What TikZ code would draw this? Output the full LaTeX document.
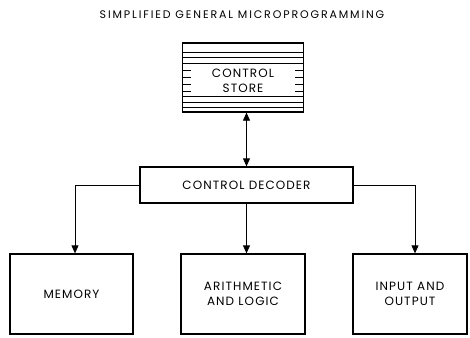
\documentclass[tikz,border=0pt]{standalone}
\usepackage{fontspec}
\setmainfont{Poppins}
\usetikzlibrary{arrows.meta}

\begin{document}
\begin{tikzpicture}[x=1pt, y=-1pt,
    block/.style={draw, line width=1.3pt, inner sep=0pt, align=center, font=\fontsize{12}{15}\selectfont\addfontfeature{LetterSpace=9}},
    link/.style={line width=0.8pt, -{Triangle[length=8pt, width=7pt]}}]
    \useasboundingbox (0,0) rectangle (470,337);
    \node (title) at (242,15) {\fontsize{11}{12}\selectfont\addfontfeature{LetterSpace=17}SIMPLIFIED GENERAL MICROPROGRAMMING};
    % control store with its memory words
    \node[block, minimum width=121pt, minimum height=69pt] (store) at (243,77.5) {};
    \node[align=center, inner sep=0pt, font=\fontsize{12}{15}\selectfont\addfontfeature{LetterSpace=9}] (storetext) at (243,81) {CONTROL\\STORE};
    \foreach \y in {52,57,63,96,102,107} {
        \draw[line width=0.5pt] (182.5,\y) -- (303.5,\y);
    }
    \foreach \y in {70,77,84,91} {
        \draw[line width=0.6pt] (182.5,\y) -- (191,\y);
        \draw[line width=0.6pt] (295,\y) -- (303.5,\y);
    }
    \node[block, minimum width=213pt, minimum height=36pt] (decoder) at (246.5,185) {CONTROL DECODER};
    \node[block, minimum width=123pt, minimum height=80pt] (memory) at (71.5,294) {MEMORY};
    \node[block, minimum width=124pt, minimum height=80pt] (alu) at (243,294) {ARITHMETIC\\AND LOGIC};
    \node[block, minimum width=114pt, minimum height=80pt] (io) at (410,294) {INPUT AND\\OUTPUT};
    \draw[link, {Triangle[length=8pt, width=7pt]}-{Triangle[length=8pt, width=7pt]}] (decoder.north |- store.south) -- (decoder.north);
    \draw[link] (decoder.west) -| ([xshift=3.5pt]memory.north);
    \draw[link] (decoder.south) -- (decoder.south |- alu.north);
    \draw[link] (decoder.east) -| ([xshift=5pt]io.north);
\end{tikzpicture}
\end{document}
